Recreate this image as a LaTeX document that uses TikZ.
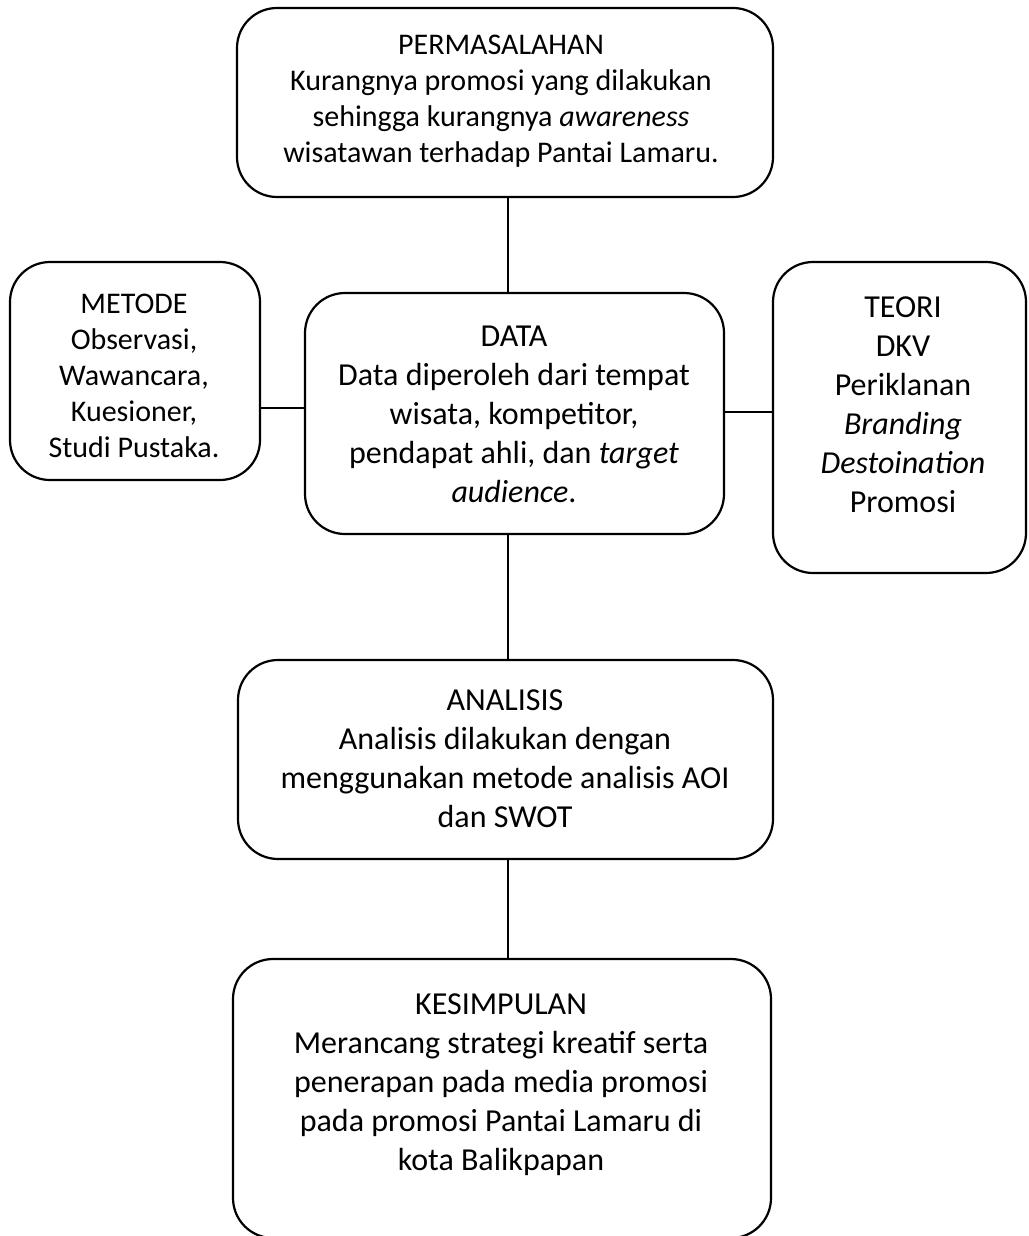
\documentclass[tikz,border=0pt]{standalone}
\usepackage{fontspec}
\setmainfont{Carlito}
\begin{document}
\begin{tikzpicture}[x=1pt,y=-1pt,
  box/.style={draw=black, line width=2.2pt, rounded corners=40pt, inner sep=0pt},
  txt/.style={align=center, inner sep=0pt, anchor=north},
  fa/.style={font=\fontsize{30}{36}\selectfont},
  fb/.style={font=\fontsize{32}{39}\selectfont},
  link/.style={draw=black, line width=1.2pt}]
\useasboundingbox[fill=white] (0,0) rectangle (1028,1236);
% boxes
\node[box, minimum width=536pt, minimum height=189pt] (perm) at (505,102.5) {};
\node[box, minimum width=250pt, minimum height=218pt] (metode) at (135,371) {};
\node[box, minimum width=419pt, minimum height=241pt] (data) at (514.5,413.5) {};
\node[box, minimum width=253pt, minimum height=311pt] (teori) at (899.5,417.5) {};
\node[box, minimum width=535pt, minimum height=199pt] (analisis) at (505.5,759.5) {};
\node[box, minimum width=538pt, minimum height=279pt] (kesimpulan) at (502,1098.5) {};
% texts
\node[txt, fa] (perm-t) at (501,35)
  {PERMASALAHAN\\Kurangnya promosi yang dilakukan\\sehingga kurangnya \textit{awareness}\\wisatawan terhadap Pantai Lamaru.};
\node[txt, fa] (metode-t) at (134,294)
  {METODE\\Observasi,\\Wawancara,\\Kuesioner,\\Studi Pustaka.};
\node[txt, fb] (data-t) at (514,326)
  {DATA\\Data diperoleh dari tempat\\wisata, kompetitor,\\pendapat ahli, dan \textit{target}\\\textit{audience}.};
\node[txt, fb] (teori-t) at (903,297)
  {TEORI\\DKV\\Periklanan\\\textit{Branding}\\\textit{Destoination}\\Promosi};
\node[txt, fb] (analisis-t) at (505,690)
  {ANALISIS\\Analisis dilakukan dengan\\menggunakan metode analisis AOI\\dan SWOT};
\node[txt, fb] (kesimpulan-t) at (501,994)
  {KESIMPULAN\\Merancang strategi kreatif serta\\penerapan pada media promosi\\pada promosi Pantai Lamaru di\\kota Balikpapan};
% connectors
\coordinate (spine) at (508,0);
\coordinate (ly) at (0,408);
\coordinate (ry) at (0,412);
\draw[link] (perm.south -| spine) -- (data.north -| spine);
\draw[link] (data.south -| spine) -- (analisis.north -| spine);
\draw[link] (analisis.south -| spine) -- (kesimpulan.north -| spine);
\draw[link] (metode.east |- ly) -- (data.west |- ly);
\draw[link] (data.east |- ry) -- (teori.west |- ry);
\end{tikzpicture}
\end{document}
